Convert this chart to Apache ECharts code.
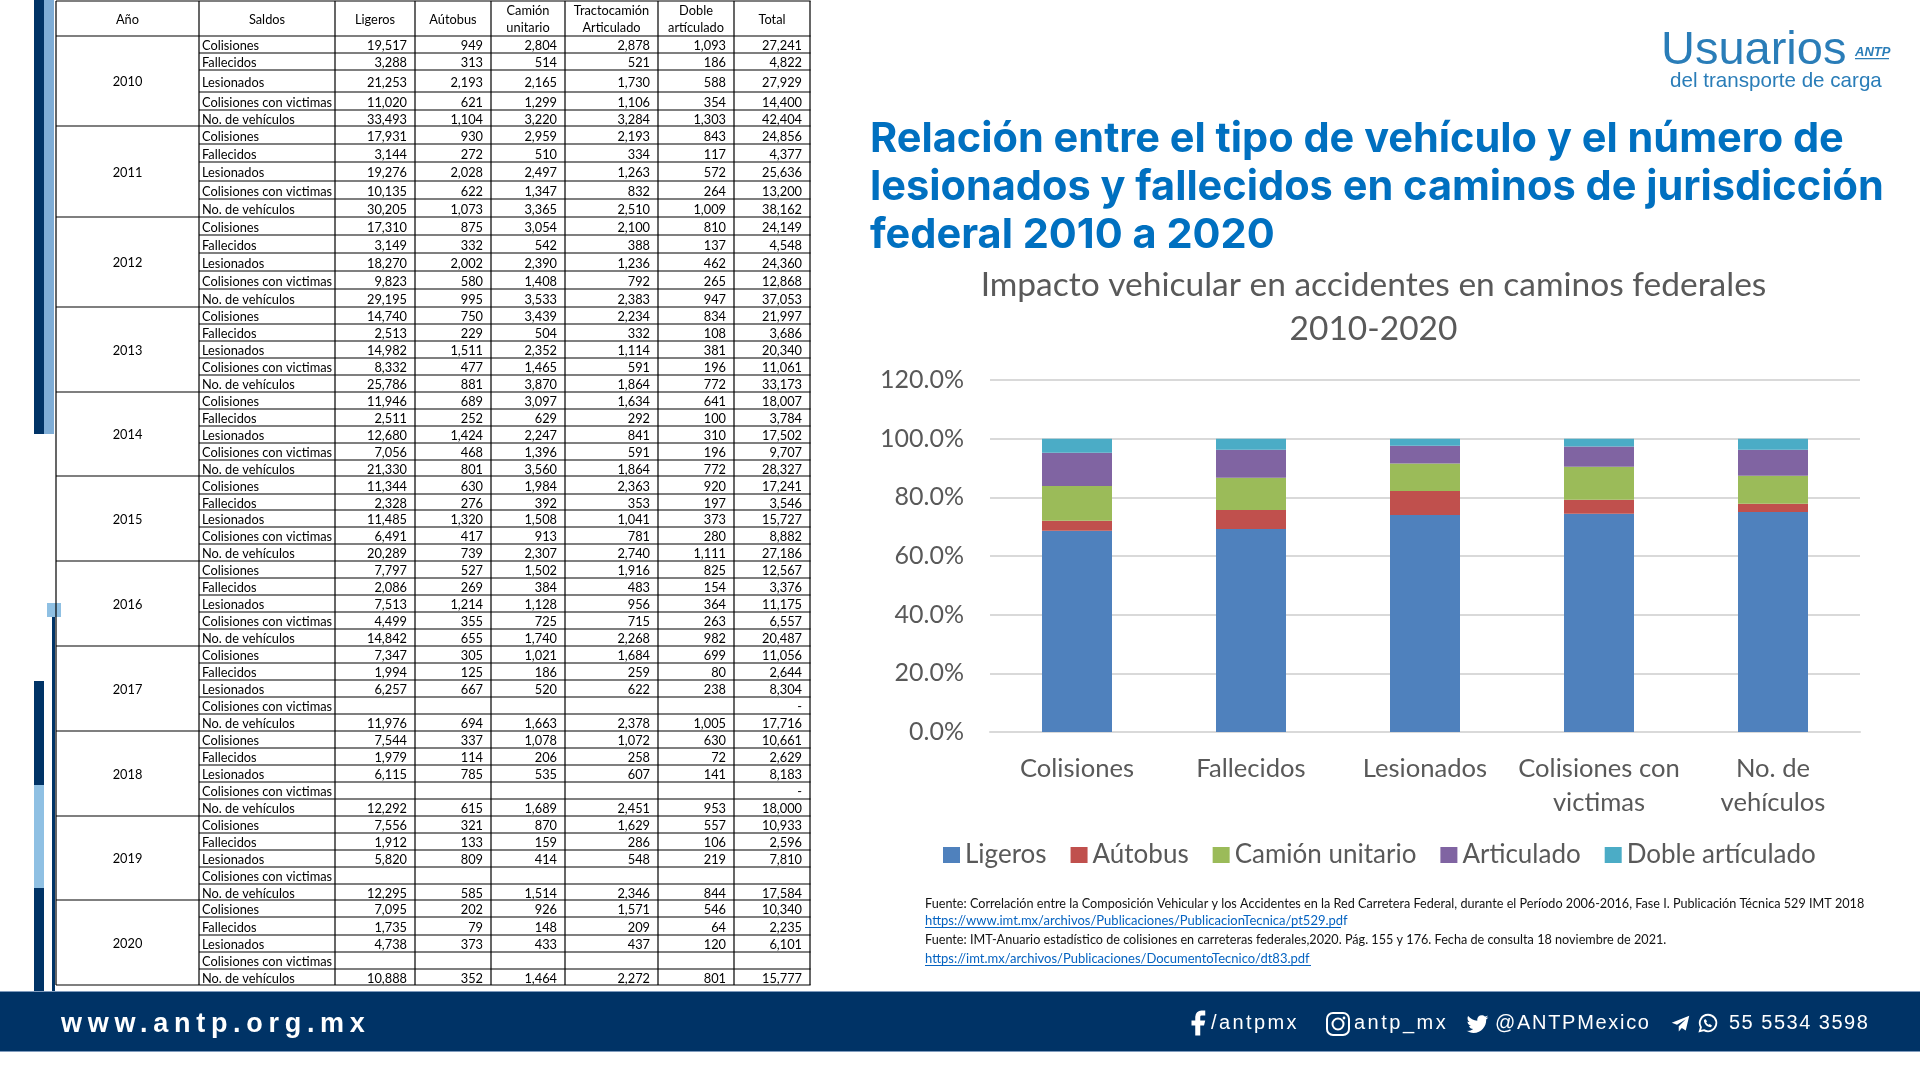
<!DOCTYPE html>
<html>
<head>
<meta charset="utf-8">
<title>Impacto vehicular</title>
<script src="https://cdn.jsdelivr.net/npm/echarts@6/dist/echarts.min.js"></script>
<style>
html, body { margin: 0; padding: 0; background: #fff; }
#chart { width: 1920px; height: 1080px; }
.foot { position: absolute; color: #fff; font-family: "Liberation Sans", sans-serif; white-space: nowrap; line-height: 30px; height: 30px; }
.ico { position: absolute; }
</style>
</head>
<body>
<div id="chart"></div>
<div class="foot" style="left:61px;top:1008px;font-size:27px;font-weight:bold;letter-spacing:5.7px;">www.antp.org.mx</div>
<div class="foot" style="left:1211px;top:1007px;font-size:20px;letter-spacing:2.4px;">/antpmx</div>
<div class="foot" style="left:1354px;top:1007px;font-size:20px;letter-spacing:2.5px;">antp_mx</div>
<div class="foot" style="left:1495px;top:1007px;font-size:20px;letter-spacing:1.7px;">@ANTPMexico</div>
<div class="foot" style="left:1729px;top:1007px;font-size:20px;letter-spacing:1.5px;">55 5534 3598</div>
<svg class="ico" style="left:1184px;top:1008px" width="30" height="30" viewBox="0 0 24 24"><path fill="#fff" d="M17 2h-3a5 5 0 0 0-5 5v3H6v4h3v8h4v-8h3l1-4h-4V7a1 1 0 0 1 1-1h3z"/></svg>
<svg class="ico" style="left:1325px;top:1011px" width="26" height="26" viewBox="0 0 26 26"><rect x="2" y="2" width="22" height="22" rx="6" fill="none" stroke="#fff" stroke-width="2"/><circle cx="13" cy="13" r="5.5" fill="none" stroke="#fff" stroke-width="2"/><circle cx="19" cy="7" r="1.4" fill="#fff"/></svg>
<svg class="ico" style="left:1465px;top:1011px" width="25" height="25" viewBox="0 0 24 24"><path fill="#fff" d="M22.46 6C21.69 6.35 20.86 6.58 20 6.69C20.88 6.16 21.56 5.32 21.88 4.31C21.05 4.81 20.13 5.16 19.16 5.36C18.37 4.5 17.26 4 16 4C13.65 4 11.73 5.92 11.73 8.29C11.73 8.63 11.77 8.96 11.84 9.27C8.28 9.09 5.11 7.38 3 4.79C2.63 5.42 2.42 6.16 2.42 6.94C2.42 8.43 3.17 9.75 4.33 10.5C3.62 10.5 2.96 10.3 2.38 10C2.38 10 2.38 10 2.38 10.03C2.38 12.11 3.86 13.85 5.82 14.24C5.46 14.34 5.08 14.39 4.69 14.39C4.42 14.39 4.15 14.36 3.89 14.31C4.43 16 6 17.26 7.89 17.29C6.43 18.45 4.58 19.13 2.56 19.13C2.22 19.13 1.88 19.11 1.54 19.07C3.44 20.29 5.7 21 8.12 21C16 21 20.33 14.46 20.33 8.79C20.33 8.6 20.33 8.42 20.32 8.23C21.16 7.63 21.88 6.87 22.46 6Z"/></svg>
<svg class="ico" style="left:1670px;top:1013px" width="21" height="21" viewBox="0 0 24 24"><path fill="#fff" d="M22 3 2 11l6 2.5L18 7l-8 8v6l3.5-4 4.5 3z"/></svg>
<svg class="ico" style="left:1697px;top:1012px" width="22" height="22" viewBox="0 0 24 24"><path fill="none" stroke="#fff" stroke-width="2" d="M12 3a9 9 0 0 0-7.7 13.6L3 21l4.6-1.2A9 9 0 1 0 12 3z"/><path fill="#fff" d="M9 7.5 7.5 9c0 4 3.5 7.5 7.5 7.5l1.5-1.5-2.5-2-1.2 1c-1.3-.6-2.3-1.6-2.8-2.8l1-1.2z"/></svg>
<script>
// stacked bar values (% of each category)
const categories = ['Colisiones', 'Fallecidos', 'Lesionados', 'Colisiones con\nvictimas', 'No. de\nvehículos'];
const ligeros = [68.6, 69.2, 74.0, 74.4, 75.0];
const autobus = [3.4, 6.5, 8.2, 4.8, 2.8];
const camion = [11.9, 11.0, 9.3, 11.2, 9.6];
const articulado = [11.3, 9.5, 6.1, 6.9, 8.8];
const doble = [4.8, 3.8, 2.4, 2.7, 3.8];

// table columns, five rows per year
const years = [2010, 2011, 2012, 2013, 2014, 2015, 2016, 2017, 2018, 2019, 2020];
const saldos = ['Colisiones', 'Fallecidos', 'Lesionados', 'Colisiones con victimas', 'No. de vehículos'];
const headers = ['Año', 'Saldos', 'Ligeros', 'Aútobus', 'Camión\nunitario', 'Tractocamión\nArticulado', 'Doble\nartículado', 'Total'];
const colLigeros = [
    19517, 3288, 21253, 11020, 33493,
    17931, 3144, 19276, 10135, 30205,
    17310, 3149, 18270, 9823, 29195,
    14740, 2513, 14982, 8332, 25786,
    11946, 2511, 12680, 7056, 21330,
    11344, 2328, 11485, 6491, 20289,
    7797, 2086, 7513, 4499, 14842,
    7347, 1994, 6257, null, 11976,
    7544, 1979, 6115, null, 12292,
    7556, 1912, 5820, null, 12295,
    7095, 1735, 4738, null, 10888
];
const colAutobus = [
    949, 313, 2193, 621, 1104,
    930, 272, 2028, 622, 1073,
    875, 332, 2002, 580, 995,
    750, 229, 1511, 477, 881,
    689, 252, 1424, 468, 801,
    630, 276, 1320, 417, 739,
    527, 269, 1214, 355, 655,
    305, 125, 667, null, 694,
    337, 114, 785, null, 615,
    321, 133, 809, null, 585,
    202, 79, 373, null, 352
];
const colCamion = [
    2804, 514, 2165, 1299, 3220,
    2959, 510, 2497, 1347, 3365,
    3054, 542, 2390, 1408, 3533,
    3439, 504, 2352, 1465, 3870,
    3097, 629, 2247, 1396, 3560,
    1984, 392, 1508, 913, 2307,
    1502, 384, 1128, 725, 1740,
    1021, 186, 520, null, 1663,
    1078, 206, 535, null, 1689,
    870, 159, 414, null, 1514,
    926, 148, 433, null, 1464
];
const colTracto = [
    2878, 521, 1730, 1106, 3284,
    2193, 334, 1263, 832, 2510,
    2100, 388, 1236, 792, 2383,
    2234, 332, 1114, 591, 1864,
    1634, 292, 841, 591, 1864,
    2363, 353, 1041, 781, 2740,
    1916, 483, 956, 715, 2268,
    1684, 259, 622, null, 2378,
    1072, 258, 607, null, 2451,
    1629, 286, 548, null, 2346,
    1571, 209, 437, null, 2272
];
const colDoble = [
    1093, 186, 588, 354, 1303,
    843, 117, 572, 264, 1009,
    810, 137, 462, 265, 947,
    834, 108, 381, 196, 772,
    641, 100, 310, 196, 772,
    920, 197, 373, 280, 1111,
    825, 154, 364, 263, 982,
    699, 80, 238, null, 1005,
    630, 72, 141, null, 953,
    557, 106, 219, null, 844,
    546, 64, 120, null, 801
];
const colTotal = [
    27241, 4822, 27929, 14400, 42404,
    24856, 4377, 25636, 13200, 38162,
    24149, 4548, 24360, 12868, 37053,
    21997, 3686, 20340, 11061, 33173,
    18007, 3784, 17502, 9707, 28327,
    17241, 3546, 15727, 8882, 27186,
    12567, 3376, 11175, 6557, 20487,
    11056, 2644, 8304, '-', 17716,
    10661, 2629, 8183, '-', 18000,
    10933, 2596, 7810, null, 17584,
    10340, 2235, 6101, null, 15777
];
const numericCols = [colLigeros, colAutobus, colCamion, colTracto, colDoble, colTotal];

// table layout in page pixels
const colX = [56, 199, 335, 415, 491, 565, 658, 734, 810];
const rowY = [1, 36,
    53, 70, 92, 110, 126,
    144, 162, 181, 199, 217,
    235, 253, 271, 289, 307,
    324, 341, 358, 375, 392,
    409, 426, 443, 460, 476,
    494, 510, 527, 544, 561,
    578, 595, 612, 629, 646,
    663, 680, 697, 714, 731,
    748, 765, 782, 799, 816,
    833, 850, 867, 884, 900,
    917, 935, 952, 969, 985];

const tableFont = '12.8px Lato, sans-serif';
const NAVY = '#003366';

function rect(x, y, w, h, fill) {
    return { type: 'rect', silent: true, shape: { x: x, y: y, width: w, height: h }, style: { fill: fill } };
}

function text(str, x, y, font, fill, align) {
    return {
        type: 'text', silent: true,
        style: { text: str, x: x, y: y, font: font, fill: fill, textAlign: align || 'left', textVerticalAlign: 'middle' }
    };
}

function buildTable() {
    const els = [];
    // horizontal rules, the long ones close a year
    rowY.forEach((y, i) => {
        const full = i < 2 || (i - 1) % 5 === 0;
        els.push(rect(full ? colX[0] : colX[1], y - 0.6, colX[8] - (full ? colX[0] : colX[1]) + 0.6, 1.2, '#000'));
    });
    colX.forEach(x => els.push(rect(x - 0.6, rowY[0], 1.2, rowY[rowY.length - 1] - rowY[0], '#000')));

    headers.forEach((h, i) => {
        const cx = (colX[i] + colX[i + 1]) / 2;
        const parts = h.split('\n');
        if (parts.length === 1) {
            els.push(text(h, cx, 20, tableFont, '#000', 'center'));
        } else {
            els.push(text(parts[0], cx, 11, tableFont, '#000', 'center'));
            els.push(text(parts[1], cx, 28, tableFont, '#000', 'center'));
        }
    });

    years.forEach((yr, i) => {
        const mid = (rowY[1 + i * 5] + rowY[1 + (i + 1) * 5]) / 2 + 1;
        els.push(text(String(yr), (colX[0] + colX[1]) / 2, mid, tableFont, '#000', 'center'));
    });

    for (let r = 0; r < colLigeros.length; r++) {
        const mid = (rowY[r + 1] + rowY[r + 2]) / 2 + 1.5;
        els.push(text(saldos[r % 5], colX[1] + 3, mid, tableFont, '#000', 'left'));
        numericCols.forEach((col, c) => {
            const v = col[r];
            if (v === null) return;
            const label = typeof v === 'number' ? v.toLocaleString('en-US') : v;
            els.push(text(label, colX[c + 3] - 8, mid, tableFont, '#000', 'right'));
        });
    }
    return els;
}

function buildDecor() {
    const els = [];
    // side strips
    els.push(rect(34, 0, 10, 434, NAVY));
    els.push(rect(44, 0, 10, 434, '#7fadd6'));
    els.push(rect(34, 681, 10, 104, NAVY));
    els.push(rect(34, 785, 10, 103, '#8fc0e3'));
    els.push(rect(34, 888, 10, 104, NAVY));
    els.push(rect(52, 617, 3, 375, NAVY));
    els.push(rect(47, 603, 14, 14, '#8fc0e3'));
    // footer band
    els.push(rect(0, 991, 1920, 61, '#7f9bbd'));
    els.push(rect(0, 992, 1920, 59, NAVY));
    return els;
}

function buildHeading() {
    const blue = '#0070c0';
    const font = 'bold 41.5px Inter, sans-serif';
    return [
        text('Usuarios', 1661, 51, '47px "Liberation Sans", sans-serif', '#2a7db8'),
        text('del transporte de carga', 1670, 81, '20.6px "Liberation Sans", sans-serif', '#2a7db8'),
        text('ANTP', 1855, 52, 'italic bold 13px "Liberation Sans", sans-serif', '#2a7db8'),
        rect(1855, 58, 34, 1.2, '#2a7db8'),
        text('Relación entre el tipo de vehículo y el número de', 870, 140, font, blue),
        text('lesionados y fallecidos en caminos de jurisdicción', 870, 188, font, blue),
        text('federal 2010 a 2020', 870, 236, font, blue)
    ];
}

function buildSources() {
    const font = '12.65px Lato, sans-serif';
    const linkFont = '13px Lato, sans-serif';
    const link = '#0563c1';
    return [
        text('Fuente: Correlación entre la Composición Vehicular y los Accidentes en la Red Carretera Federal, durante el Período 2006-2016, Fase I. Publicación Técnica 529 IMT 2018', 925, 904, font, '#111'),
        text('https://www.imt.mx/archivos/Publicaciones/PublicacionTecnica/pt529.pdf', 925, 921, linkFont, link),
        rect(925, 927, 416, 1, link),
        text('Fuente: IMT-Anuario estadístico de colisiones en carreteras federales,2020. Pág. 155 y 176. Fecha de consulta 18 noviembre de 2021.', 925, 940, font, '#111'),
        text('https://imt.mx/archivos/Publicaciones/DocumentoTecnico/dt83.pdf', 925, 959, linkFont, link),
        rect(925, 965, 386, 1, link)
    ];
}

const chart = echarts.init(document.getElementById('chart'));

function seriesOf(name, values, color) {
    return {
        name: name, type: 'bar', stack: 'total', data: values, barWidth: 70, silent: true,
        itemStyle: { color: color }
    };
}

chart.setOption({
    animation: false,
    backgroundColor: '#fff',
    textStyle: { fontFamily: 'Lato, sans-serif' },
    title: {
        text: 'Impacto vehicular en accidentes en caminos federales\n2010-2020',
        left: 1368.5, top: 258, textAlign: 'center',
        textStyle: { color: '#595959', fontFamily: 'Lato, sans-serif', fontSize: 33.5, fontWeight: 'normal', lineHeight: 44 }
    },
    legend: {
        left: 938, top: 837, icon: 'rect', itemWidth: 17, itemHeight: 16, itemGap: 24,
        selectedMode: false,
        textStyle: { color: '#595959', fontFamily: 'Lato, sans-serif', fontSize: 26 }
    },
    grid: { left: 990, right: 60, top: 380, bottom: 348, containLabel: false },
    xAxis: {
        type: 'category', data: categories,
        axisTick: { show: false },
        axisLine: { lineStyle: { color: '#d9d9d9', width: 2 } },
        axisLabel: { color: '#595959', fontSize: 25.6, lineHeight: 34, margin: 20, interval: 0 }
    },
    yAxis: {
        type: 'value', min: 0, max: 120, interval: 20,
        axisLine: { show: false }, axisTick: { show: false },
        splitLine: { lineStyle: { color: '#d9d9d9', width: 2 } },
        axisLabel: { color: '#595959', fontSize: 25, margin: 26, formatter: v => v.toFixed(1) + '%' }
    },
    series: [
        seriesOf('Ligeros', ligeros, '#4f81bd'),
        seriesOf('Aútobus', autobus, '#c0504d'),
        seriesOf('Camión unitario', camion, '#9bbb59'),
        seriesOf('Articulado', articulado, '#8064a2'),
        seriesOf('Doble artículado', doble, '#4bacc6')
    ],
    graphic: { elements: [].concat(buildDecor(), buildTable(), buildHeading(), buildSources()) }
});
</script>
</body>
</html>
